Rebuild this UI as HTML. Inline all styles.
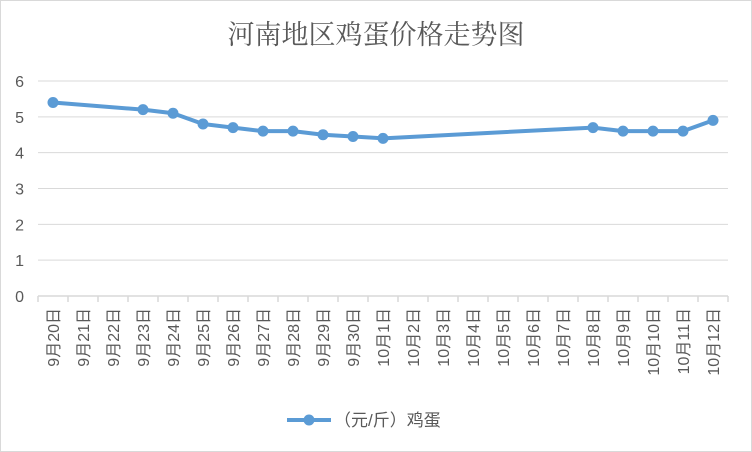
<!DOCTYPE html>
<html><head><meta charset="utf-8"><style>
body{margin:0;background:#fff}
svg{display:block;font-family:"Liberation Sans","Noto Sans CJK SC",sans-serif}
</style></head><body>
<svg id="c" width="752" height="452">
<rect x="0.5" y="0.5" width="751" height="451" fill="#fff" stroke="#d9d9d9"/>
<text x="376" y="44" text-anchor="middle" font-size="27" fill="#595959" style="font-family:'Liberation Serif','Noto Serif CJK SC',serif">河南地区鸡蛋价格走势图</text>
<g id="grid"></g><g id="axes"></g><g id="marks"></g>
<g>
<line x1="287" y1="420" x2="331" y2="420" stroke="#5b9bd5" stroke-width="4"/>
<circle cx="309" cy="420" r="5.5" fill="#5b9bd5"/>
<text x="334" y="426" font-size="17" fill="#595959">（元/斤）鸡蛋</text>
</g>
</svg>
<script>
const categories=["9月20日","9月21日","9月22日","9月23日","9月24日","9月25日","9月26日","9月27日","9月28日","9月29日","9月30日","10月1日","10月2日","10月3日","10月4日","10月5日","10月6日","10月7日","10月8日","10月9日","10月10日","10月11日","10月12日"];
const values=[5.4,null,null,5.2,5.1,4.8,4.7,4.6,4.6,4.5,4.45,4.4,null,null,null,null,null,null,4.7,4.6,4.6,4.6,4.9];
const yTicks=[0,1,2,3,4,5,6];
const NS="http://www.w3.org/2000/svg";
const L=38,R=728,T=81,B=296,yMax=6;
const bw=(R-L)/categories.length;
const x=i=>L+bw*(i+0.5);
const y=v=>B-(v/yMax)*(B-T);
function mk(p,tag,a){const e=document.createElementNS(NS,tag);for(const k in a)e.setAttribute(k,a[k]);p.appendChild(e);return e;}
const grid=document.getElementById('grid'),axes=document.getElementById('axes'),marks=document.getElementById('marks');
yTicks.forEach(t=>{
 const l=mk(grid,'line',{x1:L,x2:R,y1:y(t),y2:y(t),stroke:'#d9d9d9','stroke-width':1});
 
 
 const tx=mk(axes,'text',{x:24,y:y(t)+6,'text-anchor':'end','font-size':16,fill:'#595959'});
 tx.textContent=t;
 
 
});
const ax=mk(axes,'line',{x1:L,x2:R,y1:B,y2:B,stroke:'#d9d9d9','stroke-width':1.5});


for(let i=0;i<=categories.length;i++){
 const tk=mk(axes,'line',{x1:L+bw*i,x2:L+bw*i,y1:B,y2:B+6,stroke:'#d9d9d9','stroke-width':1.5});
 
 
}
categories.forEach((c,i)=>{
 const tx=mk(axes,'text',{transform:`translate(${x(i)+6},308) rotate(-90)`,'text-anchor':'end','font-size':16,fill:'#595959'});
 tx.textContent=c;
 
 
});
const pts=values.map((v,i)=>v==null?null:[x(i),y(v)]).filter(p=>p);
const pl=mk(marks,'polyline',{points:pts.map(p=>p.join(',')).join(' '),fill:'none',stroke:'#5b9bd5','stroke-width':4,'stroke-linejoin':'round'});


values.forEach((v,i)=>{if(v==null)return;
 const c=mk(marks,'circle',{cx:x(i),cy:y(v),r:5.5,fill:'#5b9bd5'});
 
 
});
</script>
</body></html>
